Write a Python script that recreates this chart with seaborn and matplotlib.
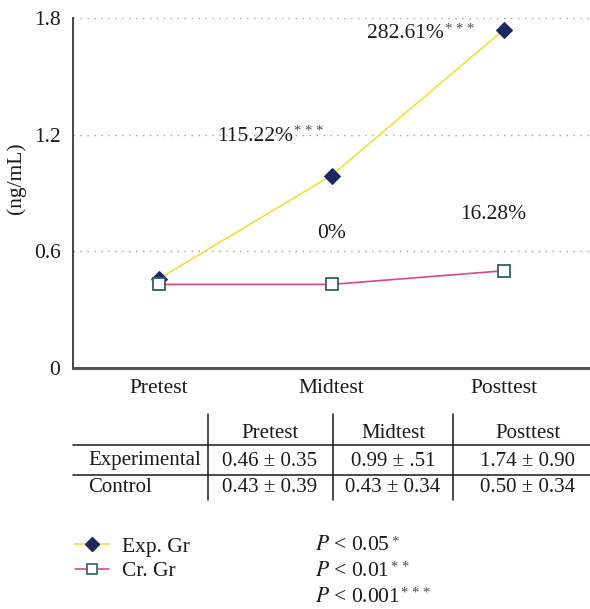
import pandas as pd
import matplotlib.pyplot as plt
import seaborn as sns
from matplotlib.lines import Line2D
from matplotlib.text import Annotation

# data
phases = ["Pretest", "Midtest", "Posttest"]
exp_vals = [0.46, 0.99, 1.74]
ctl_vals = [0.43, 0.43, 0.50]
exp_sd = ["0.35", ".51", "0.90"]
ctl_sd = ["0.39", "0.34", "0.34"]
exp_change = ["", "115.22%", "282.61%"]
exp_stars = ["", "* * *", "* * *"]
ctl_change = ["", "0%", "16.28%"]
p_levels = ["0.05", "0.01", "0.001"]
p_stars = ["*", "* *", "* * *"]

df = pd.DataFrame({
    "phase": phases * 2,
    "value": exp_vals + ctl_vals,
    "group": ["Exp. Gr"] * 3 + ["Cr. Gr"] * 3,
})

sns.set_theme(style="white")
plt.rcParams["font.family"] = ["Liberation Serif", "DejaVu Serif"]
plt.rcParams["mathtext.fontset"] = "stix"

YELLOW = "#ece23c"
PINK = "#d9478f"
NAVY = "#1f2860"
TEAL = "#2f6166"
INK = "#1a1a1a"
FS = 15.5
TFS = 15

fig = plt.figure(figsize=(5.90, 6.09), dpi=100)
W, H = 590, 609


def fx(px):
    return px / W


def fy(py):
    return 1 - py / H


ax = fig.add_axes([fx(73), fy(368), fx(590) - fx(73), fy(18) - fy(368)])

sns.lineplot(data=df[df.group == "Exp. Gr"], x="phase", y="value", ax=ax,
             color=YELLOW, linewidth=1.2, marker="D", markersize=8.5,
             markerfacecolor=NAVY, markeredgecolor=NAVY, zorder=3)
sns.lineplot(data=df[df.group == "Cr. Gr"], x="phase", y="value", ax=ax,
             color=PINK, linewidth=1.2, marker="s", markersize=8.5,
             markerfacecolor="white", markeredgecolor=TEAL,
             markeredgewidth=1.3, zorder=3)

ax.set_xlim(-0.5, 2.5)
ax.set_ylim(0, 1.8)
ax.set_yticks([0, 0.6, 1.2, 1.8])
ax.set_yticklabels(["0", "0.6", "1.2", "1.8"])
ax.set_xlabel("")
ax.set_ylabel("(ng/mL)", fontsize=FS, color=INK)
ax.yaxis.set_label_coords(-0.09, 0.543)
ax.tick_params(axis="both", length=0, labelsize=FS, colors=INK)
ax.tick_params(axis="y", pad=9)
ax.tick_params(axis="x", pad=8)
for y in [0.6, 1.2, 1.8]:
    ax.axhline(y, color="#a0a0a0", linestyle=(0, (1, 4)), linewidth=1, zorder=1)
for s in ["top", "right"]:
    ax.spines[s].set_visible(False)
ax.spines["left"].set_color("#444444")
ax.spines["left"].set_linewidth(1.4)
ax.spines["bottom"].set_color("#555555")
ax.spines["bottom"].set_linewidth(2.2)


def star_label(x, y, txt, stars):
    t = ax.text(x, y, txt, fontsize=FS, color=INK, ha="center", va="center")
    if stars:
        ax.annotate(stars, xy=(1, 1), xycoords=t, xytext=(1, 1),
                    textcoords="offset points", fontsize=10.5, color="#4d4d4d",
                    ha="left", va="top")


# percent change labels
star_label(0.556, 1.193, exp_change[1], exp_stars[1])
star_label(1.43, 1.72, exp_change[2], exp_stars[2])
star_label(1.0, 0.694, ctl_change[1], "")
star_label(1.94, 0.787, ctl_change[2], "")

# table
line_kw = dict(color=INK, linewidth=1.1)
fig.add_artist(Line2D([fx(73), fx(590)], [fy(445), fy(445)], **line_kw))
fig.add_artist(Line2D([fx(73), fx(590)], [fy(475), fy(475)], **line_kw))
for vx in [208, 333, 453]:
    fig.add_artist(Line2D([fx(vx), fx(vx)], [fy(414), fy(500)], **line_kw))

col_x = [270, 393, 528]
for cx, ph in zip(col_x, phases):
    fig.text(fx(cx), fy(434), ph, fontsize=TFS, color=INK, ha="center", va="center")
fig.text(fx(88), fy(461), "Experimental", fontsize=TFS, color=INK, ha="left", va="center")
fig.text(fx(88), fy(488), "Control", fontsize=TFS, color=INK, ha="left", va="center")
for cx, v, sd in zip(col_x, exp_vals, exp_sd):
    fig.text(fx(cx), fy(461), f"{v:.2f} ± {sd}", fontsize=TFS, color=INK,
             ha="center", va="center")
for cx, v, sd in zip(col_x, ctl_vals, ctl_sd):
    fig.text(fx(cx), fy(488), f"{v:.2f} ± {sd}", fontsize=TFS, color=INK,
             ha="center", va="center")

# legend
handles = [
    Line2D([], [], color=YELLOW, linewidth=1.2, marker="D", markersize=7,
           markerfacecolor=NAVY, markeredgecolor=NAVY),
    Line2D([], [], color=PINK, linewidth=1.2, marker="s", markersize=7,
           markerfacecolor="white", markeredgecolor=TEAL, markeredgewidth=1.2),
]
fig.legend(handles, ["Exp. Gr", "Cr. Gr"], loc="upper left",
           bbox_to_anchor=(fx(66), fy(528)), frameon=False, fontsize=FS,
           handlelength=1.6, handletextpad=0.6, labelspacing=0.2,
           labelcolor=INK, borderaxespad=0)

# p-value key
for i, (p, st) in enumerate(zip(p_levels, p_stars)):
    t = fig.text(fx(315), fy(546 + 26 * i), f"$P$ < {p}", fontsize=FS,
                 color=INK, ha="left", va="center")
    fig.add_artist(Annotation(
        st, xy=(1, 1), xycoords=t, xytext=(1, 1), textcoords="offset points",
        fontsize=10.5, color="#4d4d4d", ha="left", va="top"))

fig.savefig("out.png", dpi=100)
